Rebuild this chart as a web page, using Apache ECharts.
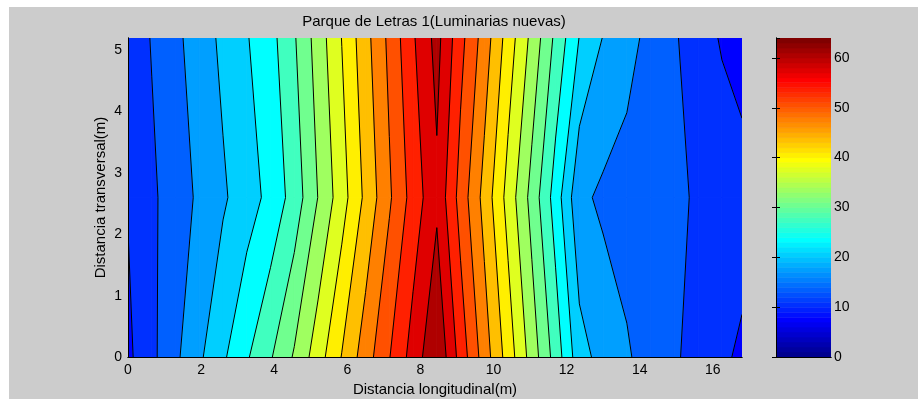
<!DOCTYPE html>
<html><head><meta charset="utf-8">
<script src="https://cdn.jsdelivr.net/npm/echarts@6/dist/echarts.min.js"></script>
<style>html,body{margin:0;padding:0;background:#fff}#chart{width:918px;height:399px}</style>
</head><body><div id="chart"></div>
<script>
// Grid of measured values (x = longitudinal distance, y = transversal distance)
const xPositions = [0,0.65,1.3,1.95,2.6,3.25,3.9,4.55,5.2,5.85,6.5,7.15,7.8,8.45,9.1,9.75,10.4,11.05,11.7,12.35,13.0,13.65,14.3,14.95,15.6,16.25,16.8];
const yPositions = [0, 2.6, 5.2];
const zRowY0 = [9.8,13.04,16.51,19.93,23.31,26.79,30.19,34.2,38.98,43.98,48.91,53.69,58.53,63.5,55.83,48.88,42.36,35.7,29.09,21.8,19.25,17.51,15.87,14.26,12.63,11.0,9.99];
const zRowY1 = [10.68,13.24,15.52,17.73,20.04,22.29,24.81,28.55,33.91,39.06,44.6,50.01,55.2,59.8,52.52,46.02,39.29,32.65,25.65,17.9,16.55,15.89,15.12,14.34,13.53,12.65,11.9];
const zRowY2 = [11.7,14.02,16.4,18.82,21.23,23.61,26.04,30.16,35.33,40.58,46.0,51.29,56.76,61.6,54.89,48.98,42.36,36.23,29.72,23.73,20.37,18.29,16.22,14.18,12.17,10.16,9.08];
const contourLevels = [7.1667,10.5,13.8333,17.1667,20.5,23.8333,27.1667,30.5,33.8333,37.1667,40.5,43.8333,47.1667,50.5,53.8333,57.1667,60.5,63.8333];
const colorbarRange = [0, 64];
const xTickStep = 2, yTickStep = 1, cbTickStep = 10;

const FONT = 'Liberation Sans, Arial, Helvetica, sans-serif';
const zGrid = [zRowY0, zRowY1, zRowY2];

function jetColor(i){ // MATLAB jet(64), index 1..64
  i = Math.max(1, Math.min(64, i));
  const r = i<=24?0 : i<=40?(i-24)/16 : i<=56?1 : 1-(i-56)/16;
  const g = i<=8?0 : i<=24?(i-8)/16 : i<=40?1 : i<=55?1-(i-40)/16 : 0;
  const b = i<=8?(i+8)/16 : i<=24?1 : i<=39?1-(i-24)/16 : 0;
  const h = v => Math.round(v*255);
  return 'rgb('+h(r)+','+h(g)+','+h(b)+')';
}
function colorForValue(v){ return jetColor(Math.floor(v)+1); }

function clipPoly(poly, level, keepAbove){
  const out=[];
  for(let n=0;n<poly.length;n++){
    const a=poly[n], b=poly[(n+1)%poly.length];
    const ina = keepAbove ? a.z>=level : a.z<=level;
    const inb = keepAbove ? b.z>=level : b.z<=level;
    if(ina) out.push(a);
    if(ina!==inb){
      const t=(level-a.z)/(b.z-a.z);
      out.push({x:a.x+t*(b.x-a.x), y:a.y+t*(b.y-a.y), z:level});
    }
  }
  return out;
}

const cells = [];
for(let j=0;j<yPositions.length-1;j++) for(let i=0;i<xPositions.length-1;i++) cells.push([xPositions[i], yPositions[j], i, j]);

function cellCorners(i,j){
  return [[i,j],[i+1,j],[i+1,j+1],[i,j+1]].map(([a,b])=>({x:xPositions[a],y:yPositions[b],z:zGrid[b][a]}));
}

function renderBands(params, api){
  const i=api.value(2), j=api.value(3);
  const corners = cellCorners(i,j);
  const children=[];
  for(let k=0;k<contourLevels.length;k++){
    const lo=contourLevels[k], hi=(k+1<contourLevels.length)?contourLevels[k+1]:Infinity;
    let poly = clipPoly(corners, lo, true);
    if(poly.length<3) continue;
    if(hi!==Infinity) poly = clipPoly(poly, hi, false);
    if(poly.length<3) continue;
    const c = colorForValue(lo);
    children.push({type:'polygon', shape:{points: poly.map(p=>api.coord([p.x,p.y]))}, style:{fill:c, stroke:c, lineWidth:0.8}});
  }
  return {type:'group', children};
}

function renderLines(params, api){
  const i=api.value(2), j=api.value(3);
  const corners = cellCorners(i,j);
  const children=[];
  for(let k=1;k<contourLevels.length;k++){
    const L=contourLevels[k];
    const pts=[];
    for(let n=0;n<4;n++){
      const a=corners[n], b=corners[(n+1)%4];
      if((a.z-L)*(b.z-L)<0){
        const t=(L-a.z)/(b.z-a.z);
        pts.push(api.coord([a.x+t*(b.x-a.x), a.y+t*(b.y-a.y)]));
      }
    }
    for(let m=0;m+1<pts.length;m+=2){
      children.push({type:'line', shape:{x1:pts[m][0],y1:pts[m][1],x2:pts[m+1][0],y2:pts[m+1][1]}, style:{stroke:'#000', lineWidth:1}});
    }
  }
  return {type:'group', children};
}

function renderColorbar(params, api){
  const lo=api.value(0), hi=api.value(1);
  const children=[];
  for(let s=lo;s<hi;s++){
    const p0=api.coord([0,s]), p1=api.coord([1,s+1]);
    const c=jetColor(s+1);
    children.push({type:'rect', shape:{x:p0[0], y:p1[1], width:p1[0]-p0[0], height:p0[1]-p1[1]}, style:{fill:c, stroke:c, lineWidth:0.5}});
  }
  return {type:'group', children};
}

const axisLineBlack = {show:true, lineStyle:{color:'#000', width:1}};
const tickLabelStyle = {color:'#000', fontSize:14, fontFamily:FONT};
const nameStyle = {color:'#000', fontSize:15, fontFamily:FONT};

const chart = echarts.init(document.getElementById('chart'), null, {renderer:'canvas'});
chart.setOption({
  backgroundColor:'#cccccc',
  animation:false,
  title:{text:'Parque de Letras 1(Luminarias nuevas)', left:434, top:14, textAlign:'center', padding:0,
    textStyle:{fontSize:15, fontWeight:'normal', color:'#000', fontFamily:FONT}},
  graphic:[
    {type:'rect', shape:{x:0,y:0,width:918,height:7}, style:{fill:'#fff'}, z:-10, silent:true},
    {type:'rect', shape:{x:0,y:0,width:9,height:399}, style:{fill:'#fff'}, z:-10, silent:true}
  ],
  grid:[
    {left:128, top:38, width:614, height:319, containLabel:false, outerBoundsMode:'none'},
    {left:776, top:38, width:55, height:319, containLabel:false, outerBoundsMode:'none'}
  ],
  xAxis:[
    {gridIndex:0, type:'value', min:0, max:16.8, interval:xTickStep, position:'bottom', z:10,
     axisLine:axisLineBlack, axisTick:{show:false}, splitLine:{show:false},
     axisLabel:Object.assign({margin:6, showMaxLabel:false}, tickLabelStyle),
     name:'Distancia longitudinal(m)', nameLocation:'middle', nameGap:25, nameMoveOverlap:false, nameTextStyle:nameStyle},
    {gridIndex:0, type:'value', min:0, max:16.8, position:'top', z:10,
     axisLine:axisLineBlack, axisTick:{show:false}, axisLabel:{show:false}, splitLine:{show:false}},
    {gridIndex:1, type:'value', min:0, max:1, position:'bottom', z:10,
     axisLine:axisLineBlack, axisTick:{show:false}, axisLabel:{show:false}, splitLine:{show:false}},
    {gridIndex:1, type:'value', min:0, max:1, position:'top', z:10,
     axisLine:axisLineBlack, axisTick:{show:false}, axisLabel:{show:false}, splitLine:{show:false}}
  ],
  yAxis:[
    {gridIndex:0, type:'value', min:0, max:5.2, interval:yTickStep, position:'left', z:10,
     axisLine:axisLineBlack, axisTick:{show:false}, splitLine:{show:false},
     axisLabel:Object.assign({margin:6, showMaxLabel:false}, tickLabelStyle),
     name:'Distancia transversal(m)', nameLocation:'middle', nameGap:20, nameMoveOverlap:false, nameRotate:90, nameTextStyle:nameStyle},
    {gridIndex:0, type:'value', min:0, max:5.2, position:'right', z:10,
     axisLine:axisLineBlack, axisTick:{show:false}, axisLabel:{show:false}, splitLine:{show:false}},
    {gridIndex:1, type:'value', min:colorbarRange[0], max:colorbarRange[1], interval:cbTickStep, position:'right', z:10,
     axisLine:axisLineBlack, axisTick:{show:true, inside:true, length:4, lineStyle:{color:'#000'}}, splitLine:{show:false},
     axisLabel:Object.assign({margin:3, showMaxLabel:false}, tickLabelStyle)},
    {gridIndex:1, type:'value', min:colorbarRange[0], max:colorbarRange[1], interval:cbTickStep, position:'left', z:10,
     axisLine:axisLineBlack, axisTick:{show:true, inside:true, length:4, lineStyle:{color:'#000'}}, splitLine:{show:false},
     axisLabel:{show:false}}
  ],
  series:[
    {type:'custom', name:'bands', xAxisIndex:0, yAxisIndex:0, clip:true, z:1, silent:true, data:cells, renderItem:renderBands},
    {type:'custom', name:'contours', xAxisIndex:0, yAxisIndex:0, clip:true, z:2, silent:true, data:cells, renderItem:renderLines},
    {type:'custom', name:'colorbar', xAxisIndex:2, yAxisIndex:2, clip:true, z:1, silent:true, data:[colorbarRange], renderItem:renderColorbar}
  ]
});
</script></body></html>
